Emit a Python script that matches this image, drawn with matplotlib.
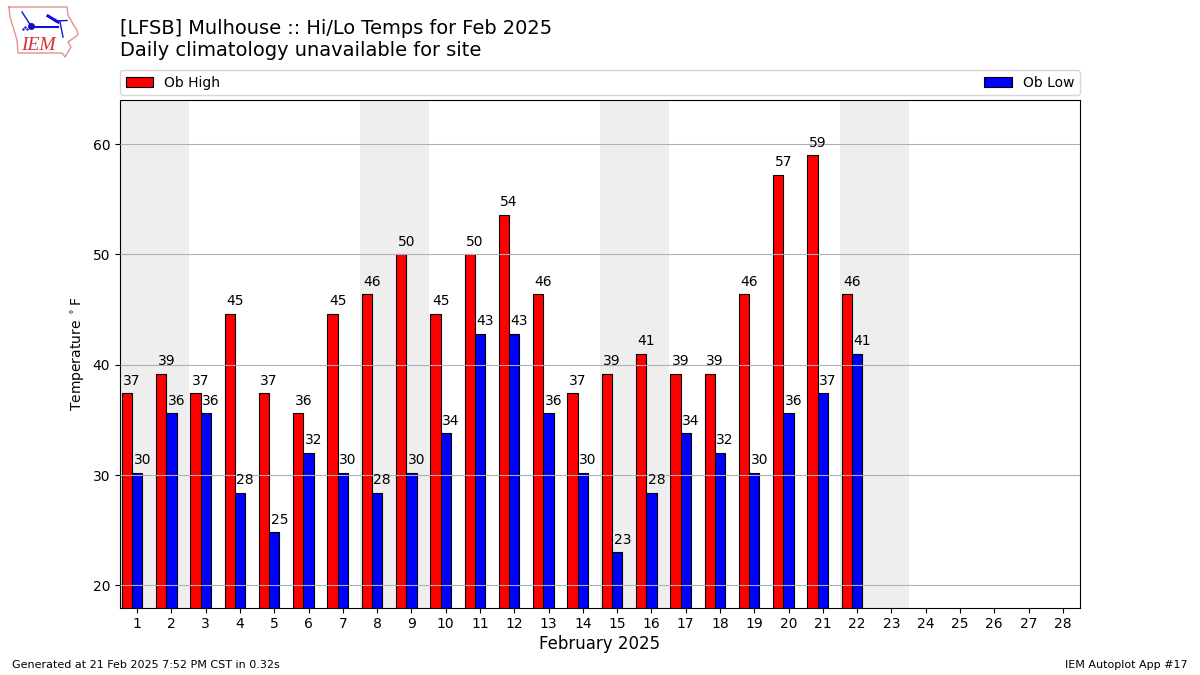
import numpy as np
import matplotlib
matplotlib.use("Agg")
import matplotlib.pyplot as plt

days = list(range(1, 23))
all_days = list(range(1, 29))
highs = [37.4, 39.2, 37.4, 44.6, 37.4, 35.6, 44.6, 46.4, 50.0, 44.6, 50.0,
         53.6, 46.4, 37.4, 39.2, 41.0, 39.2, 39.2, 46.4, 57.2, 59.0, 46.4]
lows = [30.2, 35.6, 35.6, 28.4, 24.8, 32.0, 30.2, 28.4, 30.2, 33.8, 42.8,
        42.8, 35.6, 30.2, 23.0, 28.4, 33.8, 32.0, 30.2, 35.6, 37.4, 41.0]
high_labels = [37, 39, 37, 45, 37, 36, 45, 46, 50, 45, 50, 54, 46, 37, 39, 41, 39, 39, 46, 57, 59, 46]
low_labels = [30, 36, 36, 28, 25, 32, 30, 28, 30, 34, 43, 43, 36, 30, 23, 28, 34, 32, 30, 36, 37, 41]
weekends = [(1, 2), (8, 9), (15, 16), (22, 23)]
title_lines = ["[LFSB] Mulhouse :: Hi/Lo Temps for Feb 2025", "Daily climatology unavailable for site"]

fig = plt.figure(figsize=(12, 6.75), dpi=100)
ax = fig.add_axes([0.1, 0.1, 0.8, 0.752])
d = np.array(days)
bar_w = 0.3
ax.bar(d - 0.3, highs, width=bar_w, color="r", edgecolor="k", linewidth=0.8, zorder=2, label="Ob High")
ax.bar(d, lows, width=bar_w, color="b", edgecolor="k", linewidth=0.8, zorder=2, label="Ob Low")
for a, b in weekends:
    ax.axvspan(a - 0.5, b + 0.5, color="#eeeeee", linewidth=0, zorder=1)
for x, h, l in zip(days, highs, high_labels):
    ax.text(x - 0.15, h + 0.5, str(l), ha="center", va="bottom", fontsize=10, zorder=4)
for x, h, l in zip(days, lows, low_labels):
    ax.text(x + 0.15, h + 0.5, str(l), ha="center", va="bottom", fontsize=10, zorder=4)
ax.set_xlim(0.5, 28.5)
ax.set_ylim(18, 64)
ax.set_xticks(all_days)
ax.set_yticks([20, 30, 40, 50, 60])
ax.tick_params(labelsize=10)
ax.yaxis.grid(True, color="#b0b0b0", linewidth=0.8)
ax.set_axisbelow(False)
for gl in ax.get_ygridlines():
    gl.set_zorder(1.5)
ax.set_xlabel("February 2025", fontsize=12, labelpad=3)
ax.set_ylabel(r"Temperature $^\circ$F", fontsize=10, labelpad=4)
ax.legend(loc="lower left", bbox_to_anchor=(0, 1.0095, 1, 0.05), mode="expand", ncol=2,
          fontsize=10, borderaxespad=0, borderpad=0.4)

fig.text(120 / 1200, 1 - 60.5 / 675, "\n".join(title_lines), fontsize=13.97, ha="left", va="bottom", linespacing=1.2)
fig.text(12 / 1200, 1 - 670 / 675, "Generated at 21 Feb 2025 7:52 PM CST in 0.32s", fontsize=8, ha="left", va="bottom")
fig.text(1188 / 1200, 1 - 670 / 675, "IEM Autoplot App #17", fontsize=8, ha="right", va="bottom")

# IEM logo approximation, in figure pixel coordinates
logo = fig.add_axes([0, 1 - 60 / 675, 80 / 1200, 60 / 675])
logo.set_xlim(0, 80)
logo.set_ylim(60, 0)
logo.axis("off")
outline_x = [9, 67, 68, 73, 77, 78, 68, 71, 65, 62, 18, 17, 10, 9]
outline_y = [7, 7, 15, 24, 30, 35, 42, 47, 57, 53, 53, 40, 17, 7]
logo.plot(outline_x, outline_y, color="#e49090", lw=1)
logo.plot([32, 58], [27, 27], color="#1010e0", lw=1.5)
logo.plot([22, 31], [12, 26], color="#1010e0", lw=1)
logo.plot([31], [26], "o", color="#1010c0", ms=4)
logo.plot([48, 58], [16, 22], color="#1010e0", lw=2.2)
logo.plot([55, 67], [21, 20.5], color="#1010e0", lw=1)
logo.plot([60, 63], [22, 37], color="#1010e0", lw=1)
logo.plot([23, 25, 27], [29, 27, 29], ".", color="#1010e0", ms=1.5)
logo.text(21, 45, "IEM", color="#d83030", fontsize=14, family="Liberation Serif", style="italic", ha="left", va="center")

fig.savefig("out.png", dpi=100)
